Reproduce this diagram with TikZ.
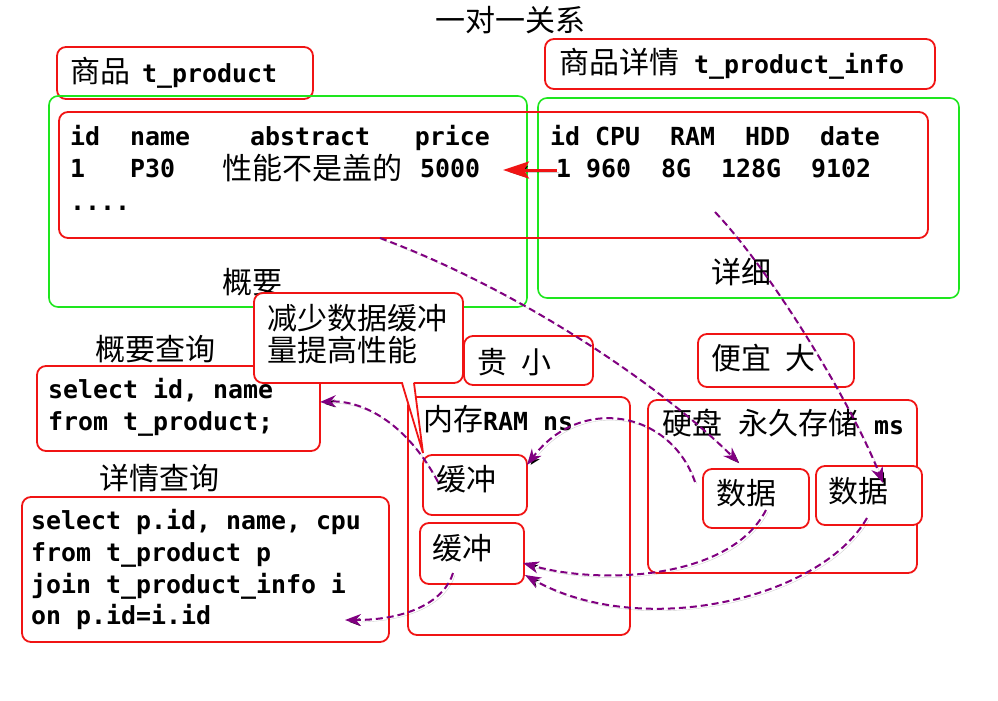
\documentclass[tikz,border=0pt]{standalone}
\usepackage{fontspec}
\newfontfamily\cjkf{Noto Sans CJK SC}
\newfontfamily\monof{DejaVu Sans Mono}
\usetikzlibrary{arrows.meta}
\definecolor{rd}{RGB}{240,20,20}
\definecolor{gr}{RGB}{30,230,30}
\definecolor{pu}{RGB}{128,0,128}
\newcommand\zhT[1]{{\cjkf\fontsize{30}{35}\selectfont #1}}
\newcommand\mnT[1]{{\monof\bfseries\fontsize{24.9}{30}\selectfont #1}}
\begin{document}
\begin{tikzpicture}[x=1pt,y=-1pt,
  rbox/.style={draw=rd, line width=1.8pt, rounded corners=9pt, inner sep=0pt},
  wbox/.style={rbox, fill=white},
  gbox/.style={draw=gr, line width=1.6pt, rounded corners=9pt, inner sep=0pt},
  ct/.style={inner sep=0pt, anchor=west, font=\cjkf\fontsize{30}{35}\selectfont},
  mt/.style={inner sep=0pt, anchor=base west, font=\monof\bfseries\fontsize{24.9}{30}\selectfont},
  mix/.style={inner sep=0pt, anchor=base west},
  shad/.style={preaction={draw=black, draw opacity=0.18, transform canvas={shift={(2pt,-2pt)}}}},
  darr/.style={draw=pu, line width=2pt, dash pattern=on 7pt off 4pt, -{Stealth[length=16pt,width=12pt]}, shad},
  rarr/.style={draw=rd, line width=3pt, -{Stealth[length=26pt,width=17pt,inset=5pt]}, shad},
]
\useasboundingbox (0,0) rectangle (998,701);

% title
\node[ct] (title) at (435,20) {一对一关系};

% headers
\node[rbox, minimum width=256pt, minimum height=52pt] (tprod) at (185,73) {};
\node[mix] (tprodt) at (70,82) {\zhT{商品}\hspace{12pt}\mnT{t\_product}};
\node[rbox, minimum width=390pt, minimum height=50pt] (tinfo) at (740,64) {};
\node[mix] (tinfot) at (559,73.5) {\zhT{商品详情}\hspace{15pt}\mnT{t\_product\_info}};

% green boxes
\node[gbox, minimum width=478pt, minimum height=211pt] (gl) at (288,201.5) {};
\node[gbox, minimum width=421pt, minimum height=200pt] (gr) at (748.5,198) {};
\node[ct] (gy) at (222,282) {概要};
\node[ct] (xx) at (711,272) {详细};

% table box
\node[rbox, minimum width=869pt, minimum height=126pt] (tbl) at (493.5,175) {};
\node[mt] (r1l) at (70,145) {id~~name~~~~abstract~~~price};
\node[mt] (r2l) at (70,177) {1~~~P30};
\node[ct] (r2c) at (222,168) {性能不是盖的};
\node[mt] (r2p) at (420,177) {5000};
\node[mt] (r3l) at (70,210) {....};
\node[mt] (r1r) at (550,145) {id~CPU~~RAM~~HDD~~date};
\node[mt] (r2r) at (556,177) {1~960~~8G~~128G~~9102};
\coordinate (ras) at (557,170);
\coordinate (rae) at (503,170);
\draw[rarr] (ras) -- (rae);

% queries
\node[ct] (gycx) at (95,349.5) {概要查询};
\node[rbox, minimum width=283pt, minimum height=85pt] (q1) at (178.5,408.5) {};
\node[mt] (q1a) at (48,398) {select~id,~name};
\node[mt] (q1b) at (48,430) {from~t\_product;};
\node[ct] (xqcx) at (99,478) {详情查询};
\node[rbox, minimum width=367pt, minimum height=145pt] (q2) at (205.5,569.5) {};
\node[mt] (q2a) at (31,529) {select~p.id,~name,~cpu};
\node[mt] (q2b) at (31,561) {from~t\_product~p};
\node[mt] (q2c) at (31,593) {join~t\_product\_info~i};
\node[mt] (q2d) at (31,624) {on~p.id=i.id};

% memory / disk
\node[rbox, minimum width=129pt, minimum height=49pt] (gui) at (528.5,360.5) {};
\node[ct] (guit) at (477,362) {贵\hspace{14pt}小};
\node[rbox, minimum width=156pt, minimum height=53pt] (py) at (776,360.5) {};
\node[ct] (pyt) at (711,358) {便宜\hspace{14pt}大};
\node[rbox, minimum width=222pt, minimum height=238pt] (mem) at (519,516) {};
\node[mix] (memt) at (423,430) {\zhT{内存}\mnT{RAM~ns}};
\node[wbox, minimum width=104pt, minimum height=60pt] (buf1) at (475,485) {};
\node[ct] (buf1t) at (436,479) {缓冲};
\node[wbox, minimum width=104pt, minimum height=61pt] (buf2) at (472,553.5) {};
\node[ct] (buf2t) at (432,548) {缓冲};
\node[rbox, minimum width=269pt, minimum height=173pt] (disk) at (782.5,486.5) {};
\node[mix] (diskt) at (662,434) {\zhT{硬盘}\hspace{16pt}\zhT{永久存储}\hspace{16pt}\mnT{ms}};
\node[wbox, minimum width=106pt, minimum height=59pt] (d1) at (756,498.5) {};
\node[ct] (d1t) at (716,493) {数据};
\node[wbox, minimum width=106pt, minimum height=59pt] (d2) at (869,495.5) {};
\node[ct] (d2t) at (828,491) {数据};

% callout
\node[wbox, minimum width=209pt, minimum height=90pt] (cb) at (358.5,338) {};
\fill[white] (402.5,381) -- (413.5,381) -- (423,453) -- cycle;
\draw[draw=rd, line width=1.8pt, line join=miter] (402,383) -- (423,453) -- (414,383);
\node[ct] (cb1) at (267,318) {减少数据缓冲};
\node[ct] (cb2) at (267,350) {量提高性能};

% dashed arrows
\coordinate (a1s) at (380,238); \coordinate (a1e) at (739,463);
\coordinate (a2s) at (715,212); \coordinate (a2e) at (883,483);
\coordinate (a3s) at (695,482); \coordinate (a3e) at (527,465);
\coordinate (a4s) at (766,510); \coordinate (a4e) at (523,563);
\coordinate (a5s) at (867,518); \coordinate (a5e) at (525,575);
\coordinate (a6s) at (438,482); \coordinate (a6e) at (320,402);
\coordinate (a7s) at (453,573); \coordinate (a7e) at (345,620);
\draw[darr] (a1s) .. controls (520,290) and (660,385) .. (a1e);
\draw[darr] (a2s) .. controls (770,270) and (850,400) .. (a2e);
\draw[darr] (a3s) .. controls (670,410) and (580,395) .. (a3e);
\draw[darr] (a4s) .. controls (730,580) and (600,585) .. (a4e);
\draw[darr] (a5s) .. controls (820,600) and (640,640) .. (a5e);
\draw[darr] (a6s) .. controls (405,420) and (360,400) .. (a6e);
\draw[darr] (a7s) .. controls (445,600) and (410,620) .. (a7e);
\end{tikzpicture}
\end{document}
